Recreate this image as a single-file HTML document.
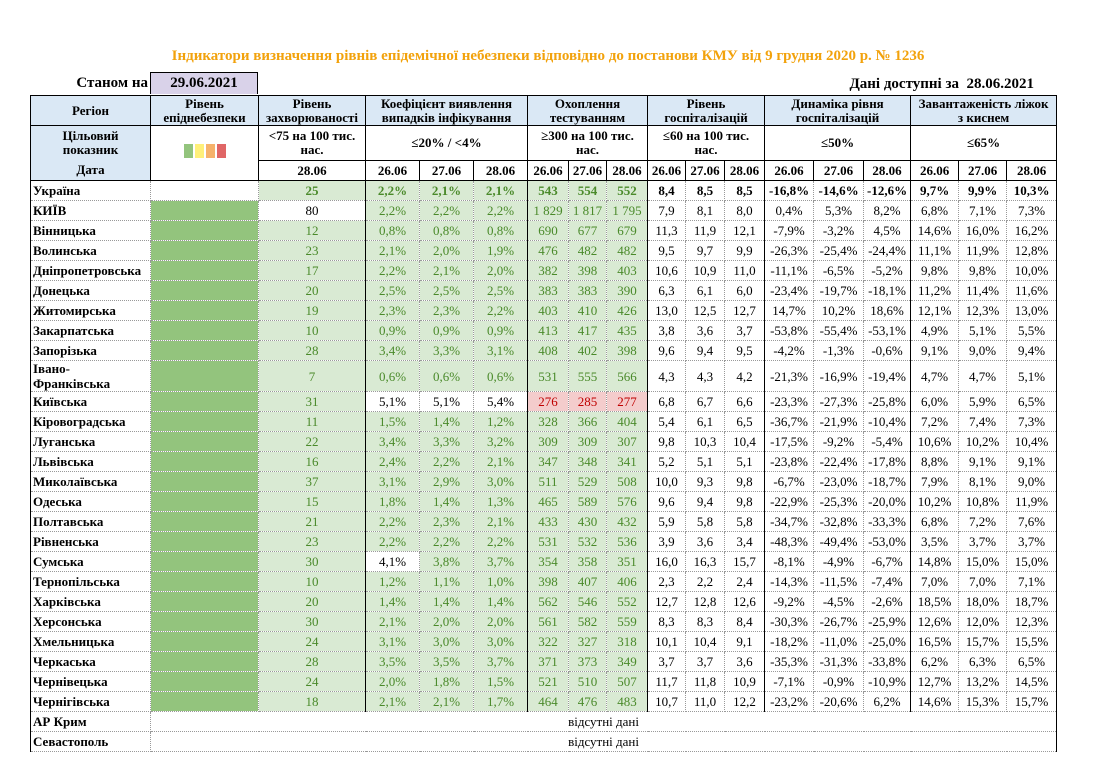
<!DOCTYPE html>
<html><head><meta charset="utf-8">
<style>
body{margin:0;width:1096px;height:776px;background:#fff;font-family:"Liberation Serif",serif;position:relative;overflow:hidden}
#title{position:absolute;left:0;width:1096px;top:48px;text-align:center;color:#f2a20c;font-weight:bold;font-size:15px}
#asof{position:absolute;left:60px;top:75px;width:88px;text-align:right;font-weight:bold;font-size:15px}
#asofdate{position:absolute;left:150px;top:72px;width:106px;height:21px;border:1px solid #000;border-bottom:none;background:#d9d2e9;text-align:center;font-weight:bold;font-size:15px;line-height:21px}
#avail{position:absolute;right:62px;top:76px;font-weight:bold;font-size:15px}
table{position:absolute;left:30px;top:95px;border-collapse:collapse;table-layout:fixed;width:1026px;font-size:13px}
td{padding:0 2px;text-align:center;white-space:nowrap;overflow:hidden;border:1px dotted #999;height:19px;line-height:15px}
thead td{font-weight:bold;font-size:13px;border:1px solid #000;white-space:normal;line-height:14px}
.blue{background:#dae8f5}
.reg{text-align:left;font-weight:bold}
.g{background:#d9ead3;color:#4a8a2a}
.dg{background:#93c47d}
.r{background:#f4cccc;color:#c00000}
.gs{border-left:1px solid #000}
tbody td:first-child{border-left:1px solid #000}
tbody td:last-child{border-right:1px solid #000}
.ua td{font-weight:bold}
</style></head><body>
<div id="title">Індикатори визначення рівнів епідемічної небезпеки відповідно до постанови КМУ від 9 грудня 2020 р. № 1236</div>
<div id="asof">Станом на</div>
<div id="asofdate">29.06.2021</div>
<div id="avail">Дані доступні за &nbsp;28.06.2021</div>
<table>
<colgroup><col style="width:120px"><col style="width:108px"><col style="width:107px"><col style="width:54px"><col style="width:54px"><col style="width:54px"><col style="width:41px"><col style="width:38px"><col style="width:41px"><col style="width:38px"><col style="width:39px"><col style="width:40px"><col style="width:49px"><col style="width:50px"><col style="width:47px"><col style="width:48px"><col style="width:48px"><col style="width:50px"></colgroup>
<thead>
<tr class="blue" style="height:30px">
<td>Регіон</td>
<td>Рівень<br>епіднебезпеки</td>
<td>Рівень<br>захворюваності</td>
<td colspan="3">Коефіцієнт виявлення<br>випадків інфікування</td>
<td colspan="3">Охоплення<br>тестуванням</td>
<td colspan="3">Рівень<br>госпіталізацій</td>
<td colspan="3">Динаміка рівня<br>госпіталізацій</td>
<td colspan="3">Завантаженість ліжок<br>з киснем</td>
</tr>
<tr style="height:35px">
<td class="blue" style="border-bottom:none">Цільовий<br>показник</td>
<td rowspan="2" style="vertical-align:top;padding-top:18px"><span style="display:inline-block;width:9px;height:14px;background:#93c47d;margin:0 1px"></span><span style="display:inline-block;width:9px;height:14px;background:#fff07a;margin:0 1px"></span><span style="display:inline-block;width:9px;height:14px;background:#f6b26b;margin:0 1px"></span><span style="display:inline-block;width:9px;height:14px;background:#e06666;margin:0 1px"></span></td>
<td>&lt;75 на 100 тис.<br>нас.</td>
<td colspan="3">≤20% / &lt;4%</td>
<td colspan="3">≥300 на 100 тис.<br>нас.</td>
<td colspan="3">≤60 на 100 тис.<br>нас.</td>
<td colspan="3">≤50%</td>
<td colspan="3">≤65%</td>
</tr>
<tr id="daterow" style="height:18px">
<td class="blue" style="border-top:none">Дата</td>
</tr>
</thead>
<tbody id="tb"></tbody>
</table>
<script>
const dateHeaders=["28.06","26.06","27.06","28.06","26.06","27.06","28.06","26.06","27.06","28.06","26.06","27.06","28.06","26.06","27.06","28.06"];
const regions=["Україна","КИЇВ","Вінницька","Волинська","Дніпропетровська","Донецька","Житомирська","Закарпатська","Запорізька","Івано-<br>Франківська","Київська","Кіровоградська","Луганська","Львівська","Миколаївська","Одеська","Полтавська","Рівненська","Сумська","Тернопільська","Харківська","Херсонська","Хмельницька","Черкаська","Чернівецька","Чернігівська"];
const incidence=["25","80","12","23","17","20","19","10","28","7","31","11","22","16","37","15","21","23","30","10","20","30","24","28","24","18"];
const detection=[["2,2%","2,1%","2,1%"],["2,2%","2,2%","2,2%"],["0,8%","0,8%","0,8%"],["2,1%","2,0%","1,9%"],["2,2%","2,1%","2,0%"],["2,5%","2,5%","2,5%"],["2,3%","2,3%","2,2%"],["0,9%","0,9%","0,9%"],["3,4%","3,3%","3,1%"],["0,6%","0,6%","0,6%"],["5,1%","5,1%","5,4%"],["1,5%","1,4%","1,2%"],["3,4%","3,3%","3,2%"],["2,4%","2,2%","2,1%"],["3,1%","2,9%","3,0%"],["1,8%","1,4%","1,3%"],["2,2%","2,3%","2,1%"],["2,2%","2,2%","2,2%"],["4,1%","3,8%","3,7%"],["1,2%","1,1%","1,0%"],["1,4%","1,4%","1,4%"],["2,1%","2,0%","2,0%"],["3,1%","3,0%","3,0%"],["3,5%","3,5%","3,7%"],["2,0%","1,8%","1,5%"],["2,1%","2,1%","1,7%"]];
const testing=[["543","554","552"],["1 829","1 817","1 795"],["690","677","679"],["476","482","482"],["382","398","403"],["383","383","390"],["403","410","426"],["413","417","435"],["408","402","398"],["531","555","566"],["276","285","277"],["328","366","404"],["309","309","307"],["347","348","341"],["511","529","508"],["465","589","576"],["433","430","432"],["531","532","536"],["354","358","351"],["398","407","406"],["562","546","552"],["561","582","559"],["322","327","318"],["371","373","349"],["521","510","507"],["464","476","483"]];
const hospital=[["8,4","8,5","8,5"],["7,9","8,1","8,0"],["11,3","11,9","12,1"],["9,5","9,7","9,9"],["10,6","10,9","11,0"],["6,3","6,1","6,0"],["13,0","12,5","12,7"],["3,8","3,6","3,7"],["9,6","9,4","9,5"],["4,3","4,3","4,2"],["6,8","6,7","6,6"],["5,4","6,1","6,5"],["9,8","10,3","10,4"],["5,2","5,1","5,1"],["10,0","9,3","9,8"],["9,6","9,4","9,8"],["5,9","5,8","5,8"],["3,9","3,6","3,4"],["16,0","16,3","15,7"],["2,3","2,2","2,4"],["12,7","12,8","12,6"],["8,3","8,3","8,4"],["10,1","10,4","9,1"],["3,7","3,7","3,6"],["11,7","11,8","10,9"],["10,7","11,0","12,2"]];
const dynamics=[["-16,8%","-14,6%","-12,6%"],["0,4%","5,3%","8,2%"],["-7,9%","-3,2%","4,5%"],["-26,3%","-25,4%","-24,4%"],["-11,1%","-6,5%","-5,2%"],["-23,4%","-19,7%","-18,1%"],["14,7%","10,2%","18,6%"],["-53,8%","-55,4%","-53,1%"],["-4,2%","-1,3%","-0,6%"],["-21,3%","-16,9%","-19,4%"],["-23,3%","-27,3%","-25,8%"],["-36,7%","-21,9%","-10,4%"],["-17,5%","-9,2%","-5,4%"],["-23,8%","-22,4%","-17,8%"],["-6,7%","-23,0%","-18,7%"],["-22,9%","-25,3%","-20,0%"],["-34,7%","-32,8%","-33,3%"],["-48,3%","-49,4%","-53,0%"],["-8,1%","-4,9%","-6,7%"],["-14,3%","-11,5%","-7,4%"],["-9,2%","-4,5%","-2,6%"],["-30,3%","-26,7%","-25,9%"],["-18,2%","-11,0%","-25,0%"],["-35,3%","-31,3%","-33,8%"],["-7,1%","-0,9%","-10,9%"],["-23,2%","-20,6%","6,2%"]];
const beds=[["9,7%","9,9%","10,3%"],["6,8%","7,1%","7,3%"],["14,6%","16,0%","16,2%"],["11,1%","11,9%","12,8%"],["9,8%","9,8%","10,0%"],["11,2%","11,4%","11,6%"],["12,1%","12,3%","13,0%"],["4,9%","5,1%","5,5%"],["9,1%","9,0%","9,4%"],["4,7%","4,7%","5,1%"],["6,0%","5,9%","6,5%"],["7,2%","7,4%","7,3%"],["10,6%","10,2%","10,4%"],["8,8%","9,1%","9,1%"],["7,9%","8,1%","9,0%"],["10,2%","10,8%","11,9%"],["6,8%","7,2%","7,6%"],["3,5%","3,7%","3,7%"],["14,8%","15,0%","15,0%"],["7,0%","7,0%","7,1%"],["18,5%","18,0%","18,7%"],["12,6%","12,0%","12,3%"],["16,5%","15,7%","15,5%"],["6,2%","6,3%","6,5%"],["12,7%","13,2%","14,5%"],["14,6%","15,3%","15,7%"]];
const missing=["АР Крим","Севастополь"];

const dr=document.getElementById('daterow');
dateHeaders.forEach(function(d){
  const td=document.createElement('td');
  
  
  td.textContent=d;
  dr.appendChild(td);
});
function pctNum(s){return parseFloat(s.replace(',','.'));}
const tb=document.getElementById('tb');
function cell(tr,html,cls,name){
  const td=document.createElement('td');
  
  
  td.innerHTML=html;
  if(cls)td.className=cls;
  tr.appendChild(td);
  return td;
}
regions.forEach(function(r,i){
  const tr=document.createElement('tr');
  
  
  if(i===0)tr.className='ua';
  if(r.indexOf('<br>')>=0)tr.style.height='31px';
  cell(tr,r,'reg','region-name');
  cell(tr,'',i===0?'':'dg','epid-level-cell');
  cell(tr,incidence[i],parseFloat(incidence[i])<75?'g':'','incidence-cell');
  detection[i].forEach(function(v,j){cell(tr,v,(pctNum(v)<4?'g':'')+(j===0?' gs':''),'detection-cell');});
  testing[i].forEach(function(v,j){cell(tr,v,(parseFloat(v.replace(' ',''))>=300?'g':'r')+(j===0?' gs':''),'testing-cell');});
  hospital[i].forEach(function(v,j){cell(tr,v,j===0?'gs':'','hospital-cell');});
  dynamics[i].forEach(function(v,j){cell(tr,v,j===0?'gs':'','dynamics-cell');});
  beds[i].forEach(function(v,j){cell(tr,v,j===0?'gs':'','beds-cell');});
  tb.appendChild(tr);
});
missing.forEach(function(m){
  const tr=document.createElement('tr');
  
  
  cell(tr,m,'reg','region-name');
  const td=cell(tr,'відсутні дані','','no-data-cell');
  td.colSpan=17;
  td.style.borderRight='1px solid #000';
  tb.appendChild(tr);
});
</script>
</body></html>
